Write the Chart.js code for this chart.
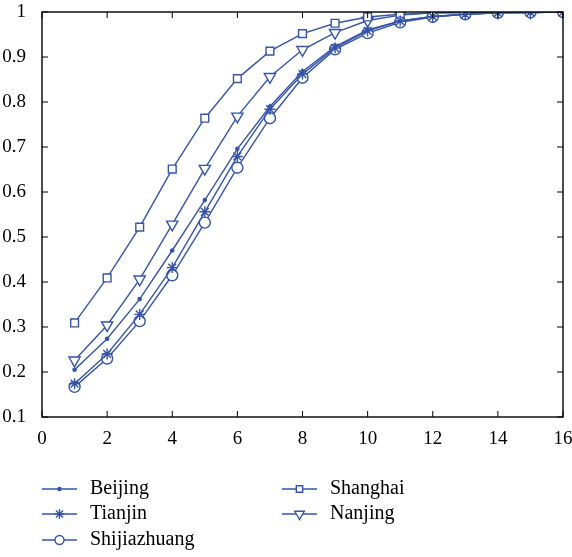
<!DOCTYPE html>
<html>
<head>
<meta charset="utf-8">
<script src="https://cdn.jsdelivr.net/npm/chart.js@4.4.1/dist/chart.umd.min.js"></script>
<style>
    html, body { margin: 0; padding: 0; background: #ffffff; }
    #wrap { width: 572px; height: 557px; position: relative; }
</style>
</head>
<body>
<div id="wrap"><canvas id="chartCities"></canvas></div>
<script>
// ========== DATA ==========
const steps = [1, 2, 3, 4, 5, 6, 7, 8, 9, 10, 11, 12, 13, 14, 15, 16];
const cities = ['Beijing', 'Tianjin', 'Shijiazhuang', 'Shanghai', 'Nanjing'];
const beijing      = [0.205, 0.274, 0.362, 0.470, 0.582, 0.696, 0.790, 0.868, 0.923, 0.960, 0.980, 0.990, 0.995, 0.998, 0.999, 1.000];
const tianjin      = [0.174, 0.240, 0.328, 0.432, 0.556, 0.679, 0.784, 0.862, 0.920, 0.958, 0.980, 0.990, 0.995, 0.998, 0.999, 1.000];
const shijiazhuang = [0.167, 0.230, 0.313, 0.415, 0.532, 0.654, 0.764, 0.854, 0.917, 0.953, 0.977, 0.989, 0.995, 0.998, 0.999, 1.000];
const shanghai     = [0.309, 0.409, 0.522, 0.651, 0.764, 0.852, 0.913, 0.952, 0.975, 0.989, 0.995, 0.998, 0.999, 1.000, 1.000, 1.000];
const nanjing      = [0.226, 0.304, 0.406, 0.528, 0.652, 0.768, 0.856, 0.916, 0.954, 0.981, 0.993, 0.998, 0.999, 1.000, 1.000, 1.000];
const xTicks = [0, 2, 4, 6, 8, 10, 12, 14, 16];
const yTicks = [0.1, 0.2, 0.3, 0.4, 0.5, 0.6, 0.7, 0.8, 0.9, 1];

const BLUE = '#3755a7';
const FONT = "'Liberation Serif', 'DejaVu Serif', serif";

function pts(vals) { return steps.map((x, i) => ({ x: x, y: vals[i] })); }

const styles = [
    { pointStyle: 'circle',   radius: 1.6, rotation: 0,   fill: BLUE,      legendRadius: 1.5 },
    { pointStyle: 'star',     radius: 5.5, rotation: 0,   fill: BLUE,      legendRadius: 5 },
    { pointStyle: 'circle',   radius: 5.5, rotation: 0,   fill: '#ffffff', legendRadius: 4.5 },
    { pointStyle: 'rect',     radius: 5.5, rotation: 0,   fill: '#ffffff', legendRadius: 4.5 },
    { pointStyle: 'triangle', radius: 6.5, rotation: 180, fill: '#ffffff', legendRadius: 5.5 }
];
const series = [beijing, tianjin, shijiazhuang, shanghai, nanjing];

const datasets = series.map((vals, i) => ({
    label: cities[i],
    data: pts(vals),
    borderColor: BLUE,
    backgroundColor: styles[i].fill,
    borderWidth: 1.4,
    pointStyle: styles[i].pointStyle,
    pointRadius: styles[i].radius,
    pointRotation: styles[i].rotation,
    pointBorderColor: BLUE,
    pointBackgroundColor: styles[i].fill,
    pointBorderWidth: 1.4,
    tension: 0,
    fill: false
}));

// ========== PLUGINS ==========
// inward ticks on all four sides + frame
const frameTicks = {
    id: 'frameTicks',
    afterDraw(chart) {
        const ctx = chart.ctx;
        const a = chart.chartArea;
        const xs = chart.scales.x, ys = chart.scales.y;
        const len = 6;
        ctx.save();
        ctx.strokeStyle = '#000';
        ctx.lineWidth = 1.4;
        ctx.strokeRect(a.left, a.top, a.right - a.left, a.bottom - a.top);
        ctx.lineWidth = 1;
        ctx.beginPath();
        xTicks.forEach(v => {
            const px = xs.getPixelForValue(v);
            ctx.moveTo(px, a.bottom); ctx.lineTo(px, a.bottom - len);
            ctx.moveTo(px, a.top); ctx.lineTo(px, a.top + len);
        });
        yTicks.forEach(v => {
            const py = ys.getPixelForValue(v);
            ctx.moveTo(a.left, py); ctx.lineTo(a.left + len, py);
            ctx.moveTo(a.right, py); ctx.lineTo(a.right - len, py);
        });
        ctx.stroke();
        ctx.restore();
    }
};

// two-column legend below the plot
const cityLegend = {
    id: 'cityLegend',
    afterDraw(chart) {
        const ctx = chart.ctx;
        const slots = [
            { x: 42, y: 489 }, { x: 42, y: 514 }, { x: 42, y: 540 },
            { x: 282, y: 489 }, { x: 282, y: 514 }
        ];
        ctx.save();
        chart.data.datasets.forEach((ds, i) => {
            const s = slots[i];
            ctx.strokeStyle = BLUE;
            ctx.lineWidth = 1.4;
            ctx.beginPath();
            ctx.moveTo(s.x, s.y); ctx.lineTo(s.x + 35, s.y);
            ctx.stroke();
            ctx.fillStyle = styles[i].fill;
            Chart.helpers.drawPoint(ctx, {
                pointStyle: styles[i].pointStyle,
                radius: styles[i].legendRadius,
                rotation: styles[i].rotation,
                borderWidth: 1.4
            }, s.x + 17.5, s.y);
            ctx.fillStyle = '#000';
            ctx.font = '20px ' + FONT;
            ctx.textBaseline = 'middle';
            ctx.textAlign = 'left';
            ctx.fillText(ds.label, s.x + 48, s.y);
        });
        ctx.restore();
    }
};

// ========== CHART ==========
new Chart(document.getElementById('chartCities'), {
    type: 'line',
    data: { datasets: datasets },
    options: {
        responsive: true,
        maintainAspectRatio: false,
        animation: false,
        layout: { padding: { left: 0, right: 9, top: 12, bottom: 110 } },
        plugins: { legend: { display: false }, tooltip: { enabled: false } },
        scales: {
            x: {
                type: 'linear',
                min: 0, max: 16,
                afterBuildTicks: s => { s.ticks = xTicks.map(v => ({ value: v })); },
                afterFit: s => { s.height = 30; s.paddingRight = 0; s.paddingLeft = 0; },
                grid: { display: false },
                border: { display: false },
                ticks: { color: '#000', font: { family: FONT, size: 19 }, padding: 3, maxRotation: 0 }
            },
            y: {
                type: 'linear',
                min: 0.1, max: 1,
                afterBuildTicks: s => { s.ticks = yTicks.map(v => ({ value: v })); },
                afterFit: s => { s.width = 42; s.paddingTop = 0; s.paddingBottom = 0; },
                grid: { display: false },
                border: { display: false },
                ticks: {
                    color: '#000', font: { family: FONT, size: 19 }, padding: 8,
                    callback: v => (Math.round(v * 10) / 10).toString()
                }
            }
        }
    },
    plugins: [frameTicks, cityLegend]
});
</script>
</body>
</html>
